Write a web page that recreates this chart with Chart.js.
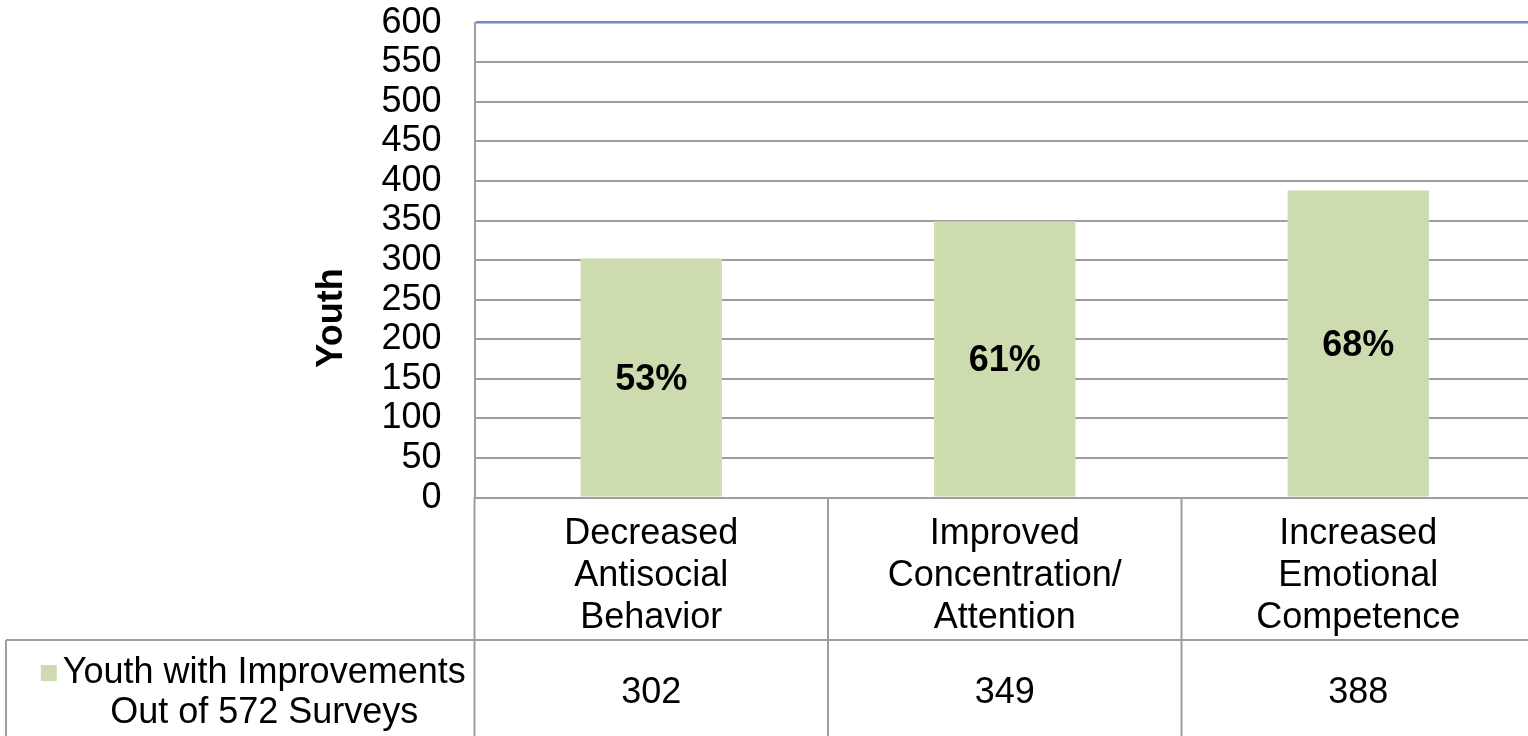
<!DOCTYPE html>
<html>
<head>
<meta charset="utf-8">
<script src="https://cdn.jsdelivr.net/npm/chart.js@4.4.1/dist/chart.umd.min.js"></script>
<style>
  html, body { margin: 0; padding: 0; background: #ffffff; overflow: hidden; }
  #wrap { width: 1536px; height: 736px; }
</style>
</head>
<body>
<div id="wrap"><canvas id="chart" width="1536" height="736"></canvas></div>
<script>
// Category labels (one line per array entry)
const categories = [
  ['Decreased', 'Antisocial', 'Behavior'],
  ['Improved', 'Concentration/', 'Attention'],
  ['Increased', 'Emotional', 'Competence']
];
// Number of youth showing improvement in each area
const youthImproved = [302, 349, 388];
// Total surveys returned
const surveysTotal = 572;
// Series name shown in the data table
const seriesLabel = ['Youth with Improvements', 'Out of 572 Surveys'];
const axisTitle = 'Youth';
// Value axis range
const yMin = 0, yMax = 600, yStep = 50;

const FONT = "'Liberation Sans', Arial, sans-serif";
const BAR_COLOR = '#cddcae';
const LINE_COLOR = '#9e9e9e';
const TOP_LINE_COLOR = '#6690c5';

// Draws the percentage labels in the bars, the axis title and the data table under the plot
const tablePlugin = {
  id: 'dataTable',
  afterDraw(chart) {
    const { ctx, chartArea, scales: { x, y } } = chart;
    const n = categories.length;
    const tableTop = chartArea.bottom;
    const rowSplit = 640;
    const tableBottom = chart.height + 20;
    const left = x.getPixelForValue(-0.5);
    const right = x.getPixelForValue(n - 0.5);
    const headerLeft = 6;

    ctx.save();

    // percentage labels inside bars
    ctx.font = 'bold 36px ' + FONT;
    ctx.fillStyle = '#000000';
    ctx.textAlign = 'center';
    ctx.textBaseline = 'middle';
    youthImproved.forEach((v, i) => {
      const pct = Math.round(v / surveysTotal * 100) + '%';
      ctx.fillText(pct, x.getPixelForValue(i), y.getPixelForValue(v / 2) + 2);
    });

    // axis title
    ctx.save();
    ctx.translate(chartArea.left - 142, 318);
    ctx.rotate(-Math.PI / 2);
    ctx.font = 'bold 36px ' + FONT;
    ctx.fillText(axisTitle, 0, 0);
    ctx.restore();

    // table grid
    ctx.strokeStyle = LINE_COLOR;
    ctx.lineWidth = 2;
    ctx.beginPath();
    ctx.moveTo(headerLeft, rowSplit);
    ctx.lineTo(right, rowSplit);
    for (let i = 0; i <= n; i++) {
      const px = x.getPixelForValue(i - 0.5);
      ctx.moveTo(px, tableTop);
      ctx.lineTo(px, tableBottom);
    }
    ctx.moveTo(headerLeft, rowSplit);
    ctx.lineTo(headerLeft, tableBottom);
    ctx.stroke();

    // values row
    ctx.font = '36px ' + FONT;
    ctx.fillStyle = '#000000';
    youthImproved.forEach((v, i) => {
      ctx.fillText(String(v), x.getPixelForValue(i), 693);
    });

    // series header with legend key
    const cx = (headerLeft + left) / 2 + 24;
    ctx.fillText(seriesLabel[0], cx, 673);
    ctx.fillText(seriesLabel[1], cx, 713);
    const w0 = ctx.measureText(seriesLabel[0]).width;
    ctx.fillStyle = BAR_COLOR;
    ctx.fillRect(cx - w0 / 2 - 22, 665, 16, 16);

    ctx.restore();
  }
};

new Chart(document.getElementById('chart'), {
  type: 'bar',
  data: {
    labels: categories,
    datasets: [{
      label: seriesLabel.join(' '),
      data: youthImproved,
      backgroundColor: BAR_COLOR,
      borderWidth: 0,
      barPercentage: 1,
      categoryPercentage: 0.4
    }]
  },
  options: {
    responsive: false,
    animation: false,
    devicePixelRatio: 1,
    layout: { padding: { top: 22.7, right: 1, left: 0, bottom: 0 } },
    plugins: { legend: { display: false }, tooltip: { enabled: false }, title: { display: false } },
    scales: {
      x: {
        grid: { display: false },
        border: { display: true, color: LINE_COLOR, width: 2 },
        ticks: {
          color: '#000000',
          font: { family: FONT, size: 36, lineHeight: 42 / 36 },
          padding: 7.4,
          maxRotation: 0,
          autoSkip: false
        },
        afterFit(scale) { scale.height = 736 - 497.6; }
      },
      y: {
        min: yMin,
        max: yMax,
        grid: {
          color: ctx => (ctx.tick && ctx.tick.value === yMax) ? TOP_LINE_COLOR : LINE_COLOR,
          lineWidth: ctx => (ctx.tick && ctx.tick.value === yMax) ? 2.5 : 2,
          drawTicks: true,
          tickLength: 33,
          tickColor: 'rgba(0,0,0,0)'
        },
        border: { display: true, color: LINE_COLOR, width: 2 },
        ticks: {
          stepSize: yStep,
          autoSkip: false,
          color: '#000000',
          font: { family: FONT, size: 36, lineHeight: 1 },
          padding: 0
        },
        afterFit(scale) { scale.width = 474.5; }
      }
    }
  },
  plugins: [tablePlugin]
});
</script>
</body>
</html>
